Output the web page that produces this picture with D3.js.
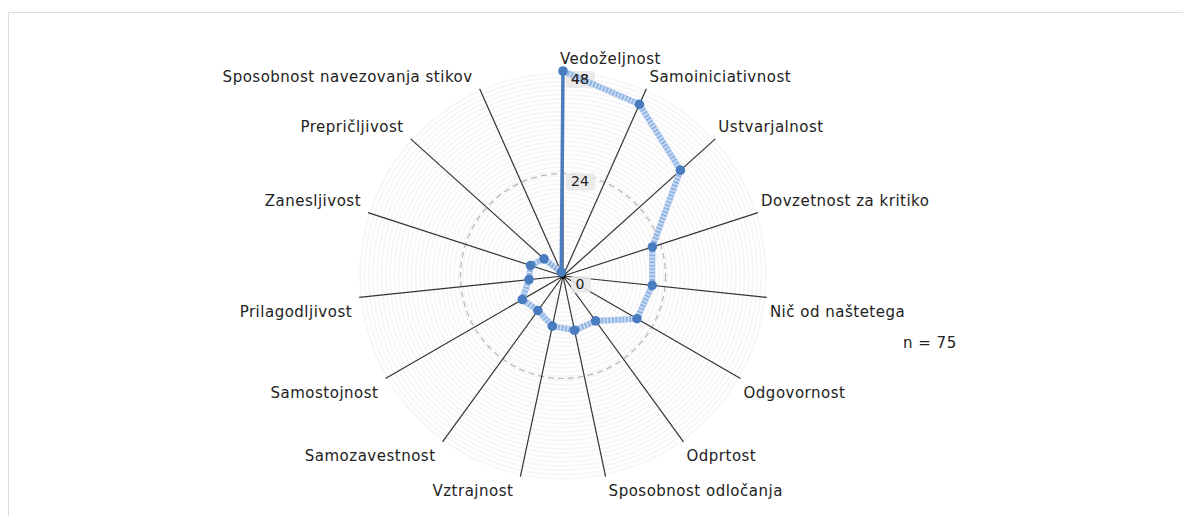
<!DOCTYPE html>
<meta charset="utf-8">
<script src="https://d3js.org/d3.v7.min.js"></script>
<style>
  body { margin: 0; background: #fff; }
  text { font-family: "DejaVu Sans", sans-serif; fill: #222; }
</style>
<svg id="chart" width="1183" height="516"></svg>
<script>
// categories and values (counts)
var categories = ["Vedoželjnost", "Samoiniciativnost", "Ustvarjalnost", "Dovzetnost za kritiko",
  "Nič od naštetega", "Odgovornost", "Odprtost", "Sposobnost odločanja", "Vztrajnost",
  "Samozavestnost", "Samostojnost", "Prilagodljivost", "Zanesljivost", "Prepričljivost",
  "Sposobnost navezovanja stikov"];
var values = [48, 44, 37, 22, 21, 20, 13, 13, 12, 10, 11, 8, 8, 6, 1];
var tickValues = [0, 24, 48];
var sampleNote = "n = 75";

var svg = d3.select("#chart");
var cx = 563, cy = 276;

// frame
svg.append("rect")
  .attr("x", 8.5).attr("y", 12.5)
  .attr("width", 1300).attr("height", 600)
  .attr("fill", "none").attr("stroke", "#dcdcdc");

var r = d3.scaleLinear().domain([0, 48]).range([0, 205]);
// even angular step around the full circle
var angle = function(c) { return categories.indexOf(c) * 2 * Math.PI / categories.length; };

var g = svg.append("g").attr("transform", "translate(" + cx + "," + cy + ")");

// faint bands
g.append("g").selectAll("circle")
  .data(d3.range(0.5, 48.01, 1))
  .enter().append("circle")
    .attr("r", function(d) { return r(d); })
    .attr("fill", "none")
    .attr("stroke", "#f6f6f6")
    .attr("stroke-width", 2);

// dashed mid circle
g.append("circle")
  .attr("r", r(24))
  .attr("fill", "none")
  .attr("stroke", "#b5b5b5")
  .attr("stroke-width", 1.2)
  .attr("stroke-dasharray", "6,4");

// spokes
g.append("g").selectAll("line")
  .data(categories)
  .enter().append("line")
    .attr("x1", 0).attr("y1", 0)
    .attr("x2", function(d) { return r(48) * Math.sin(angle(d)); })
    .attr("y2", function(d) { return -r(48) * Math.cos(angle(d)); })
    .attr("stroke", "#333")
    .attr("stroke-width", 1.2);

g.append("circle").attr("r", 3).attr("fill", "#111");

// tick labels
var ticks = g.append("g").selectAll("g")
  .data(tickValues)
  .enter().append("g")
    .attr("transform", function(d) { return "translate(17," + (-r(d) + 8) + ")"; });
ticks.append("rect")
  .attr("x", function(d) { return d < 10 ? -9 : -14; })
  .attr("y", -8)
  .attr("width", function(d) { return d < 10 ? 20 : 29; })
  .attr("height", 17)
  .attr("rx", 3)
  .attr("fill", "#e8e8e8")
  .attr("fill-opacity", 0.85);
ticks.append("text")
  .attr("text-anchor", "middle")
  .attr("dy", "0.35em")
  .style("font-size", "14px")
  .text(function(d) { return d; });

// data line
var pts = categories.map(function(c, i) {
  return [r(values[i]) * Math.sin(angle(c)), -r(values[i]) * Math.cos(angle(c))];
});
var line = d3.line();
g.append("path")
  .attr("d", line(pts))
  .attr("fill", "none")
  .attr("stroke", "#7fa8df")
  .attr("stroke-opacity", 0.85)
  .attr("stroke-width", 6)
  .attr("stroke-linejoin", "round");
g.append("path")
  .attr("d", line(pts))
  .attr("fill", "none")
  .attr("stroke", "#dce8f7")
  .attr("stroke-opacity", 0.8)
  .attr("stroke-width", 6)
  .attr("stroke-dasharray", "1.5,2");
// closing segment
g.append("path")
  .attr("d", line([pts[pts.length - 1], pts[0]]))
  .attr("fill", "none")
  .attr("stroke", "#4a7cc0")
  .attr("stroke-width", 3.5);

g.append("g").selectAll("circle")
  .data(pts)
  .enter().append("circle")
    .attr("cx", function(d) { return d[0]; })
    .attr("cy", function(d) { return d[1]; })
    .attr("r", 4.8)
    .attr("fill", "#4a7cc0");

// 48 label text redrawn on top so it stays readable
g.append("text")
  .attr("x", 17).attr("y", -r(48) + 8)
  .attr("text-anchor", "middle")
  .attr("dy", "0.35em")
  .style("font-size", "14px")
  .text(tickValues[2]);

// category labels
g.append("g").selectAll("text")
  .data(categories)
  .enter().append("text")
    .style("font-size", "15px")
    .style("letter-spacing", "0.5px")
    .attr("text-anchor", function(d) { return Math.sin(angle(d)) < -0.01 ? "end" : "start"; })
    .attr("x", function(d) {
      var a = angle(d), x = r(48) * Math.sin(a);
      if (a === 0) return x - 3;
      return Math.sin(a) < 0 ? x - 7 : x + 3;
    })
    .attr("y", function(d) {
      var a = angle(d), y = -r(48) * Math.cos(a);
      return Math.cos(a) > 0 ? y - 12 : y + 14;
    })
    .attr("dy", "0.35em")
    .text(function(d) { return d; });

svg.append("text")
  .attr("x", 903).attr("y", 343)
  .attr("dy", "0.35em")
  .style("font-size", "15px")
  .style("letter-spacing", "0.5px")
  .text(sampleNote);
</script>
